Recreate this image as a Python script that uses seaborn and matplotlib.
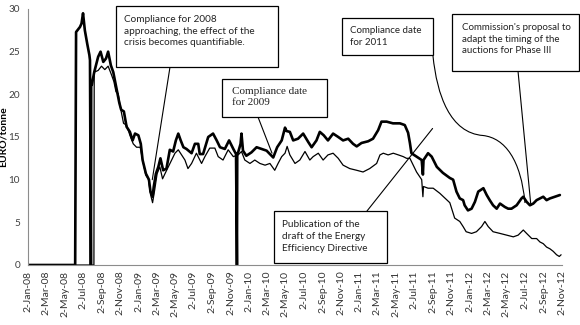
import matplotlib
matplotlib.use("Agg")
import matplotlib.pyplot as plt
import matplotlib.dates as mdates
from matplotlib.patches import Rectangle, PathPatch
from matplotlib.path import Path
import pandas as pd
import seaborn as sns

# ---- data ----
eua_dates = ["2008-01-02", "2008-06-06", "2008-06-09", "2008-06-22", "2008-06-27", "2008-07-02",
             "2008-07-08", "2008-07-16", "2008-07-23", "2008-07-25", "2008-07-28", "2008-07-29",
             "2008-07-31", "2008-08-08", "2008-08-21", "2008-08-29", "2008-09-07", "2008-09-16",
             "2008-09-23", "2008-10-02", "2008-10-10", "2008-10-15", "2008-10-23", "2008-10-30",
             "2008-11-05", "2008-11-14", "2008-11-23", "2008-12-04", "2008-12-13", "2008-12-21",
             "2009-01-01", "2009-01-09", "2009-01-15", "2009-01-26", "2009-02-05", "2009-02-10",
             "2009-02-17", "2009-02-21", "2009-02-28", "2009-03-08", "2009-03-15", "2009-03-24",
             "2009-04-04", "2009-04-15", "2009-04-26", "2009-05-05", "2009-05-13", "2009-05-21",
             "2009-05-30", "2009-06-09", "2009-06-26", "2009-07-07", "2009-07-18", "2009-07-23",
             "2009-08-03", "2009-08-20", "2009-09-05", "2009-09-17", "2009-09-28", "2009-10-14",
             "2009-10-28", "2009-11-11", "2009-11-20", "2009-11-23", "2009-11-24", "2009-11-27",
             "2009-12-05", "2009-12-08", "2009-12-13", "2009-12-24", "2010-01-10", "2010-01-27",
             "2010-02-13", "2010-03-01", "2010-03-12", "2010-03-23", "2010-04-05", "2010-04-20",
             "2010-05-01", "2010-05-06", "2010-05-17", "2010-05-28", "2010-06-13", "2010-06-30",
             "2010-07-17", "2010-07-28", "2010-08-13", "2010-08-24", "2010-09-06", "2010-09-20",
             "2010-10-07", "2010-10-24", "2010-11-09", "2010-11-26", "2010-12-12", "2010-12-24",
             "2011-01-09", "2011-01-31", "2011-02-16", "2011-03-05", "2011-03-16", "2011-04-02",
             "2011-04-23", "2011-05-16", "2011-06-01", "2011-06-12", "2011-06-18", "2011-06-23",
             "2011-07-10", "2011-07-27", "2011-07-31", "2011-08-02", "2011-08-17", "2011-08-29",
             "2011-09-15", "2011-10-05", "2011-10-28", "2011-11-08", "2011-11-19", "2011-11-30",
             "2011-12-11", "2011-12-16", "2011-12-27", "2012-01-08", "2012-01-19", "2012-01-30",
             "2012-02-16", "2012-02-27", "2012-03-08", "2012-03-19", "2012-03-31", "2012-04-11",
             "2012-04-27", "2012-05-08", "2012-05-19", "2012-06-05", "2012-06-21", "2012-06-27",
             "2012-07-08", "2012-07-19", "2012-07-30", "2012-08-10", "2012-08-21", "2012-09-01",
             "2012-09-12", "2012-09-23", "2012-10-09", "2012-10-26"]
eua_values = [0, 0, 27.3, 27.9, 28.3, 29.5,
              27.5, 25.9, 24.6, 24.0, 0, 21.4,
              21.1, 22.6, 24.4, 25.0, 23.8, 24.2,
              25.0, 23.4, 22.6, 21.7, 20.3, 19.0,
              18.2, 18.0, 16.2, 15.6, 14.6, 15.4,
              15.2, 14.2, 12.3, 10.7, 10.0, 8.6,
              8.0, 9.2, 10.7, 11.5, 12.5, 11.1,
              11.3, 13.5, 13.3, 14.6, 15.4, 14.6,
              13.8, 13.6, 13.1, 14.2, 14.2, 13.0,
              13.0, 15.0, 15.4, 14.6, 13.8, 13.6,
              14.6, 13.6, 13.0, 0, 13.0, 13.2,
              14.2, 15.4, 13.4, 12.8, 13.2, 13.8,
              13.6, 13.4, 13.0, 12.6, 13.8, 14.6,
              16.1, 15.7, 15.6, 14.6, 14.8, 15.4,
              14.4, 13.8, 14.6, 15.6, 15.2, 14.6,
              15.4, 15.0, 14.6, 14.8, 14.2, 13.9,
              14.3, 14.5, 14.8, 15.8, 16.8, 16.8,
              16.6, 16.6, 16.4, 15.5, 14.3, 13.1,
              12.7, 12.3, 10.6, 12.3, 13.1, 12.7,
              11.5, 10.8, 10.2, 10.0, 8.6, 7.8,
              7.6, 7.0, 6.4, 6.6, 7.4, 8.6,
              9.0, 8.2, 7.6, 7.0, 6.6, 7.2,
              6.8, 6.6, 6.6, 7.0, 7.8, 8.0,
              7.4, 7.0, 7.2, 7.6, 7.8, 8.0,
              7.6, 7.8, 8.0, 8.2]

cer_dates = ["2008-01-02", "2008-08-07", "2008-08-08", "2008-08-21", "2008-09-01", "2008-09-12",
             "2008-09-23", "2008-10-04", "2008-10-12", "2008-10-19", "2008-10-26", "2008-11-04",
             "2008-11-13", "2008-11-23", "2008-12-04", "2008-12-15", "2008-12-26", "2009-01-07",
             "2009-01-15", "2009-01-26", "2009-02-03", "2009-02-10", "2009-02-17", "2009-02-24",
             "2009-03-04", "2009-03-13", "2009-03-22", "2009-03-30", "2009-04-10", "2009-04-21",
             "2009-05-02", "2009-05-13", "2009-05-24", "2009-06-04", "2009-06-14", "2009-06-26",
             "2009-07-12", "2009-07-29", "2009-08-09", "2009-08-25", "2009-09-11", "2009-09-22",
             "2009-10-08", "2009-10-25", "2009-11-11", "2009-11-27", "2009-12-08", "2009-12-19",
             "2010-01-05", "2010-01-21", "2010-02-07", "2010-02-24", "2010-03-12", "2010-03-28",
             "2010-04-08", "2010-04-20", "2010-05-01", "2010-05-08", "2010-05-17", "2010-06-03",
             "2010-06-19", "2010-07-06", "2010-07-22", "2010-08-02", "2010-08-19", "2010-09-04",
             "2010-09-20", "2010-10-07", "2010-10-24", "2010-11-09", "2010-12-01", "2010-12-24",
             "2011-01-14", "2011-02-05", "2011-02-28", "2011-03-11", "2011-03-22", "2011-04-07",
             "2011-04-24", "2011-05-11", "2011-05-27", "2011-06-07", "2011-06-18", "2011-07-10",
             "2011-07-27", "2011-07-31", "2011-08-02", "2011-08-17", "2011-09-03", "2011-09-25",
             "2011-10-28", "2011-11-13", "2011-11-30", "2011-12-11", "2011-12-21", "2012-01-08",
             "2012-01-24", "2012-02-10", "2012-02-21", "2012-03-03", "2012-03-19", "2012-04-11",
             "2012-05-03", "2012-05-25", "2012-06-10", "2012-06-27", "2012-07-08", "2012-07-25",
             "2012-08-10", "2012-08-21", "2012-09-01", "2012-09-12", "2012-09-23", "2012-10-04",
             "2012-10-15", "2012-10-24", "2012-10-30"]
cer_values = [0, 0, 22.6, 22.8, 23.3, 22.9,
              23.3, 22.3, 21.5, 20.3, 20.1, 18.2,
              16.6, 16.4, 15.2, 14.2, 13.8, 13.8,
              12.3, 10.5, 10.1, 8.3, 7.3, 8.8,
              10.7, 11.5, 10.1, 10.7, 11.5, 12.3,
              13.1, 13.5, 12.9, 12.3, 11.3, 11.9,
              13.1, 11.9, 12.7, 13.7, 13.7, 12.7,
              12.3, 13.5, 12.7, 12.9, 13.3, 12.3,
              11.9, 12.3, 11.9, 11.7, 11.9, 11.1,
              11.9, 12.7, 13.1, 13.9, 12.9, 11.9,
              12.3, 13.3, 12.3, 12.7, 13.1, 12.3,
              12.9, 13.1, 12.5, 11.7, 11.3, 11.1,
              10.9, 11.3, 11.9, 12.9, 13.1, 12.9,
              13.1, 12.9, 12.7, 12.5, 12.5, 10.9,
              10.0, 8.0, 9.2, 9.0, 9.0, 8.4,
              7.3, 5.5, 5.1, 4.5, 3.9, 3.7,
              3.9, 4.5, 5.1, 4.5, 3.9, 3.7,
              3.5, 3.3, 3.5, 4.1, 3.7, 3.1,
              3.1, 2.7, 2.5, 2.1, 1.9, 1.6,
              1.2, 1.0, 1.2]

y_ticks = [0, 5, 10, 15, 20, 25, 30]
x_start, x_end = "2008-01-02", "2012-11-02"

notes = [
    "Compliance for 2008\napproaching, the effect of the\ncrisis becomes quantifiable.",
    "Compliance date\nfor 2009",
    "Compliance date\nfor 2011",
    "Commission's proposal to\nadapt the timing of the\nauctions for Phase III",
    "Publication of the\ndraft of the Energy\nEfficiency Directive",
]
note_targets = [("2009-02-16", 10.0), ("2010-03-19", 13.1), ("2012-07-02", 7.3),
                ("2012-07-22", 7.0), ("2011-09-01", 16.0)]

# ---- figure ----
sns.set_theme(style="white")
plt.rcParams['font.family'] = ['Lato', 'DejaVu Sans']

fig = plt.figure(figsize=(5.8, 3.25), dpi=100)
W, H = 580, 325
L, R, T, B = 28, 562, 9, 265
ax = fig.add_axes([L / W, 1 - B / H, (R - L) / W, (B - T) / H])

def fx(px):
    return (px - L) / (R - L)

def fy(py):
    return (B - py) / (B - T)

df_eua = pd.DataFrame({"date": pd.to_datetime(eua_dates), "price": eua_values})
df_cer = pd.DataFrame({"date": pd.to_datetime(cer_dates), "price": cer_values})

sns.lineplot(data=df_eua, x="date", y="price", ax=ax, color="black",
             linewidth=1.9, estimator=None)
sns.lineplot(data=df_cer, x="date", y="price", ax=ax, color="black",
             linewidth=0.9, estimator=None)

ax.set_xlim(pd.Timestamp(x_start), pd.Timestamp(x_end))
ax.set_ylim(0, 30)
ax.set_yticks(y_ticks)
ax.xaxis.set_major_locator(mdates.MonthLocator(bymonth=[1, 3, 5, 7, 9, 11], bymonthday=2))
ax.xaxis.set_major_formatter(mdates.DateFormatter("%-d-%b-%y"))

for s in ["top", "right"]:
    ax.spines[s].set_visible(False)
for s in ["left", "bottom"]:
    ax.spines[s].set_color("#8c8c8c")
    ax.spines[s].set_linewidth(0.8)

ax.tick_params(axis="x", direction="out", length=3, width=0.7, color="#8c8c8c",
               labelsize=7.5, labelcolor="#333333", pad=1, rotation=90)
ax.tick_params(axis="y", direction="out", length=3.2, width=0.7, color="#8c8c8c",
               labelsize=7.2, labelcolor="#404040", pad=2.5)
ax.set_xlabel("")
ax.set_ylabel("EURO/tonne", fontsize=7.5, fontweight="bold", color="black")
ax.yaxis.set_label_coords(fx(7.5), 0.5)
ax.grid(False)

# ---- annotation boxes ----
boxes = [(116, 278, 6, 67), (222, 327, 79, 117), (342, 433, 18, 55),
         (452, 579.5, 14, 71), (274, 387, 211, 263)]
text_pos = [(124, 31), (231.5, 97), (350, 36.7), (461.5, 39.3), (282.5, 236.7)]
text_font = [dict(size=7.2, linespacing=1.42), dict(size=8, linespacing=1.18, family="Liberation Serif"),
             dict(size=7.0, linespacing=1.38), dict(size=7.0, linespacing=1.38),
             dict(size=7.2, linespacing=1.4)]
for (x0, x1, y0, y1), (tx, ty), f, txt in zip(boxes, text_pos, text_font, notes):
    ax.add_patch(Rectangle((fx(x0), fy(y1)), fx(x1) - fx(x0), fy(y0) - fy(y1),
                           transform=ax.transAxes, facecolor="white", edgecolor="black",
                           linewidth=0.9, clip_on=False, zorder=5))
    ax.text(fx(tx), fy(ty), txt, transform=ax.transAxes, ha="left", va="center",
            color="#222222", zorder=6, clip_on=False, **f)

# leader lines
starts = [(170, 67), (258, 117), None, (518, 71), (367, 211)]
for i, st in enumerate(starts):
    if st is None:
        continue
    d, v = note_targets[i]
    ax.annotate("", xy=(mdates.date2num(pd.Timestamp(d)), v), xycoords="data",
                xytext=(fx(st[0]), fy(st[1])), textcoords="axes fraction",
                arrowprops=dict(arrowstyle="-", lw=0.8, color="black",
                                shrinkA=0, shrinkB=0), zorder=4)

# curved leader for the 2011 compliance box
end_px = (525, 203)
verts = [(fx(433), fy(56)), (fx(437), fy(95)), (fx(450), fy(133)), (fx(483), fy(135.5)),
         (fx(505), fy(138)), (fx(521), fy(160)), (fx(end_px[0]), fy(end_px[1]))]
codes = [Path.MOVETO, Path.CURVE4, Path.CURVE4, Path.CURVE4,
         Path.CURVE4, Path.CURVE4, Path.CURVE4]
ax.add_patch(PathPatch(Path(verts, codes), transform=ax.transAxes, facecolor="none",
                       edgecolor="black", lw=0.8, zorder=4, clip_on=False))

fig.savefig("out.png", dpi=100, facecolor="white")
